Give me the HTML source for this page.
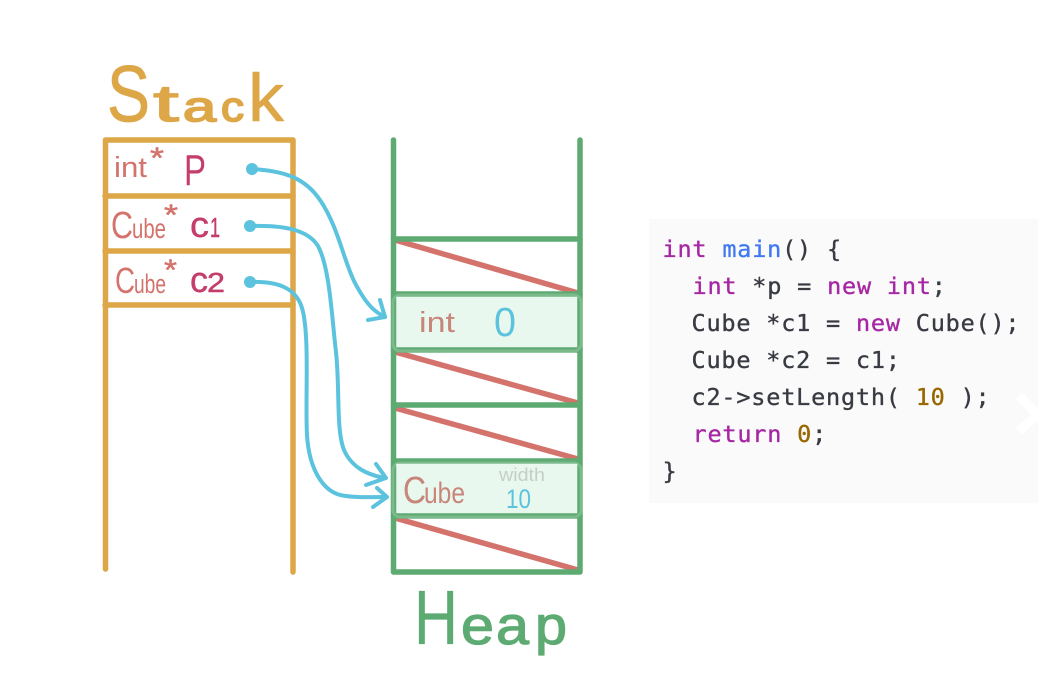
<!DOCTYPE html>
<html>
<head>
<meta charset="utf-8">
<style>
html,body{margin:0;padding:0;background:#fff;width:1062px;height:692px;overflow:hidden}
svg{display:block}
.c{font-family:"DejaVu Sans Mono","Liberation Mono",monospace;font-size:23.500px;fill:#383a42;stroke:#383a42;stroke-width:.35px;letter-spacing:.8px;white-space:pre}
.k{fill:#a626a4;stroke:#a626a4}.f{fill:#4078f2;stroke:#4078f2}.n{fill:#986801;stroke:#986801}
.o{stroke-linejoin:round;stroke-linecap:round}
</style>
</head>
<body>
<svg width="1062" height="692" viewBox="0 0 1062 692" xmlns="http://www.w3.org/2000/svg">
<rect width="1062" height="692" fill="#fff"/>
<defs><filter id="b" x="-5%" y="-5%" width="110%" height="110%"><feGaussianBlur stdDeviation="0.35"/></filter></defs>

<!-- code panel -->
<rect x="649" y="219" width="389" height="284" fill="#fafafa"/>
<path d="M1019 396 L1038 415 L1019 431" fill="none" stroke="#fff" stroke-width="9"/>
<rect x="1038" y="380" width="24" height="60" fill="#fff"/>
<g filter="url(#b)">
<text class="c" x="662.500" y="257" xml:space="preserve"><tspan class="k">int</tspan> <tspan class="f">main</tspan>() {</text>
<text class="c" x="692.500" y="294" xml:space="preserve"><tspan class="k">int</tspan> *p = <tspan class="k">new</tspan> <tspan class="k">int</tspan>;</text>
<text class="c" x="691.500" y="331" xml:space="preserve">Cube *c1 = <tspan class="k">new</tspan> Cube();</text>
<text class="c" x="691.500" y="368" xml:space="preserve">Cube *c2 = c1;</text>
<text class="c" x="691.500" y="405" xml:space="preserve">c2-&gt;setLength( <tspan class="n">10</tspan> );</text>
<text class="c" x="692.500" y="442" xml:space="preserve"><tspan class="k">return</tspan> <tspan class="n">0</tspan>;</text>
<text class="c" x="662.500" y="479" xml:space="preserve">}</text>
</g>

<!-- stack -->
<g stroke="#dda748" stroke-width="5.5" fill="none" stroke-linecap="round" stroke-linejoin="round">
<path d="M105.500 569 V140 H293 V572"/>
<path d="M105 196 H293"/>
<path d="M105 251 H293"/>
<path d="M105 305 H293"/>
</g>

<!-- heap highlight boxes -->
<rect x="394" y="296" width="186" height="54" rx="6" fill="#e8f8ee"/>
<rect x="394" y="464" width="186" height="52" rx="6" fill="#e8f8ee"/>

<!-- diagonals -->
<g stroke="#d4736c" stroke-width="5.500" fill="none">
<path d="M395 240 L578 293"/>
<path d="M395 352 L578 403"/>
<path d="M395 408 L578 459"/>
<path d="M395 518 L578 570"/>
</g>

<!-- heap -->
<g stroke="#5dab72" stroke-width="5.500" fill="none" stroke-linecap="round" stroke-linejoin="round">
<path d="M393.500 140 V572 H580 V140"/>
<path d="M393.500 239 H580"/>
<path d="M393.500 294 H580"/>
<path d="M393.500 350 H580"/>
<path d="M393.500 405 H580"/>
<path d="M393.500 461 H580"/>
<path d="M393.500 516 H580"/>
</g>
<rect x="393" y="295" width="188" height="56" rx="7" fill="none" stroke="#fff" stroke-opacity=".18" stroke-width="3"/>
<rect x="393" y="463" width="188" height="54" rx="7" fill="none" stroke="#fff" stroke-opacity=".18" stroke-width="3"/>

<!-- connectors -->
<g stroke="#5cc3de" stroke-width="4" fill="none" stroke-linecap="round" stroke-linejoin="round">
<path d="M252 169 C285 171 305 178 320 200 C338 226 344 262 355 283 C364 300 372 311 385 317"/>
<path d="M380 300 L385 317 L368 320"/>
<path d="M250 226 C285 225 308 230 318 246 C330 268 332 320 336 352 C340 390 336 430 344 450 C352 468 368 475 385 478"/>
<path d="M376 464 L386 478 L366 485"/>
<path d="M250 282 C278 281 296 288 302 308 C310 335 305 400 307 435 C309 468 322 490 340 495 C355 498 370 497 386 497"/>
<path d="M377 488 L387 497 L373 507"/>
</g>
<circle cx="252" cy="169" r="6" fill="#5cc3de"/>
<circle cx="250" cy="226" r="6" fill="#5cc3de"/>
<circle cx="250" cy="282" r="6" fill="#5cc3de"/>

<g font-family="'Liberation Sans',sans-serif">
<!-- Stack title -->
<g fill="#dda748" stroke="#dda748" class="o">
<text x="107" y="121" font-size="80" stroke-width=".8" textLength="43" lengthAdjust="spacingAndGlyphs">S</text>
<text x="153" y="121" font-size="52" stroke-width="1.200" textLength="26" lengthAdjust="spacingAndGlyphs">t</text>
<text x="183" y="121" font-size="42" stroke-width="1.800" textLength="33" lengthAdjust="spacingAndGlyphs">a</text>
<text x="221" y="121" font-size="42" stroke-width="1.800" textLength="23" lengthAdjust="spacingAndGlyphs">c</text>
<text x="248" y="121" font-size="68" stroke-width=".6" textLength="36" lengthAdjust="spacingAndGlyphs">k</text>
</g>
<!-- Heap title -->
<g fill="#5dab72" stroke="#5dab72" class="o">
<text x="414" y="644" font-size="77" stroke-width=".3" textLength="44" lengthAdjust="spacingAndGlyphs">H</text>
<text x="461" y="644" font-size="54" stroke-width="1.200" textLength="33" lengthAdjust="spacingAndGlyphs">e</text>
<text x="496" y="644" font-size="54" stroke-width="1.200" textLength="33" lengthAdjust="spacingAndGlyphs">a</text>
<text x="535" y="644" font-size="54" stroke-width="1.200" textLength="32" lengthAdjust="spacingAndGlyphs">p</text>
</g>

<!-- stack labels -->
<text x="114" y="177" font-size="29" fill="#d4736c" textLength="33" lengthAdjust="spacingAndGlyphs">int</text>
<text x="150" y="168" font-size="30" fill="#d4736c" stroke="#d4736c" stroke-width=".5" textLength="14" lengthAdjust="spacingAndGlyphs">*</text>
<text x="184" y="185" font-size="44" fill="#c43d6b" textLength="22" lengthAdjust="spacingAndGlyphs">P</text>

<text x="111" y="238" font-size="38" fill="#d4736c" textLength="22" lengthAdjust="spacingAndGlyphs">C</text>
<text x="132" y="238" font-size="28" fill="#d4736c" textLength="34" lengthAdjust="spacingAndGlyphs">ube</text>
<text x="164" y="225" font-size="30" fill="#d4736c" stroke="#d4736c" stroke-width=".5" textLength="14" lengthAdjust="spacingAndGlyphs">*</text>
<text x="190" y="237" font-size="36" fill="#c43d6b" stroke="#c43d6b" stroke-width=".4" class="o" textLength="19" lengthAdjust="spacingAndGlyphs">c</text>
<text x="210" y="237" font-size="28" fill="#c43d6b" stroke="#c43d6b" stroke-width=".5" textLength="10" lengthAdjust="spacingAndGlyphs">1</text>

<text x="115" y="293" font-size="36" fill="#d4736c" textLength="20" lengthAdjust="spacingAndGlyphs">C</text>
<text x="134" y="293" font-size="27" fill="#d4736c" textLength="32" lengthAdjust="spacingAndGlyphs">ube</text>
<text x="164" y="280" font-size="30" fill="#d4736c" stroke="#d4736c" stroke-width=".5" textLength="13" lengthAdjust="spacingAndGlyphs">*</text>
<text x="190" y="292" font-size="36" fill="#c43d6b" stroke="#c43d6b" stroke-width=".4" class="o" textLength="18" lengthAdjust="spacingAndGlyphs">c</text>
<text x="207" y="292" font-size="28" fill="#c43d6b" stroke="#c43d6b" stroke-width=".5" class="o" textLength="18" lengthAdjust="spacingAndGlyphs">2</text>

<!-- heap labels -->
<text x="419" y="332" font-size="29" fill="#c8857a" textLength="36" lengthAdjust="spacingAndGlyphs">int</text>
<text x="494" y="336" font-size="41" fill="#5cc3de" textLength="22" lengthAdjust="spacingAndGlyphs">0</text>
<text x="403" y="503" font-size="38" fill="#c8857a" textLength="23" lengthAdjust="spacingAndGlyphs">C</text>
<text x="424" y="503" font-size="30" fill="#c8857a" textLength="41" lengthAdjust="spacingAndGlyphs">ube</text>
<text x="499" y="481" font-size="18" fill="#c4cec7" textLength="46" lengthAdjust="spacingAndGlyphs">width</text>
<text x="506" y="508" font-size="27" fill="#5cc3de" textLength="25" lengthAdjust="spacingAndGlyphs">10</text>
</g>
</svg>
</body>
</html>
